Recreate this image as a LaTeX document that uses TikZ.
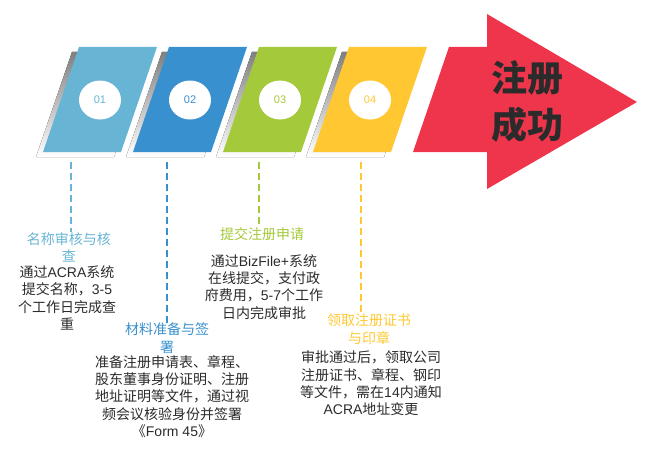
\documentclass[tikz,border=0pt]{standalone}
\usepackage{fontspec}
\setmainfont{Noto Sans CJK SC}
\newfontfamily\latn{Liberation Sans}
\usepackage{xcolor}
\usetikzlibrary{positioning, shapes.geometric, calc}

\definecolor{stepA}{HTML}{67B4D4}
\definecolor{stepB}{HTML}{3990CE}
\definecolor{stepC}{HTML}{A4C93A}
\definecolor{stepD}{HTML}{FFC832}
\definecolor{goal}{HTML}{EE354B}
\definecolor{shade}{HTML}{A6A6A6}
\definecolor{ink}{HTML}{2B2B2B}

\begin{document}
\begin{tikzpicture}[
  x=1pt, y=-1pt,
  numdisc/.style={ellipse, fill=white, minimum width=42pt, minimum height=39pt,
                  inner sep=0pt, font=\latn\fontsize{11}{13}\selectfont},
  steptitle/.style={align=center, inner sep=0pt,
                    font=\fontsize{14}{17.5}\selectfont},
  stepbody/.style={align=center, inner sep=0pt, text=ink,
                   font=\fontsize{14}{17.3}\selectfont},
  link/.style={line width=1.6pt, dash pattern=on 7pt off 4pt}
]
  \useasboundingbox (0,0) rectangle (653,452);

  % Step cards with shadows and number discs
  \foreach \i/\c/\n/\dx in {0/stepA/01/71, 1/stepB/02/167, 2/stepC/03/259, 3/stepD/04/361}{
    \fill[shade] (72+90*\i,52) -- (150+90*\i,52) -- (114+90*\i,157)
      -- (36+90*\i,157) -- cycle;
    \fill[\c] (79+90*\i,47) -- (157+90*\i,47) -- (121+90*\i,152)
      -- (43+90*\i,152) -- cycle;
    \node[numdisc, text=\c] (num\i) at (100+90*\i,100) {\n};
    \coordinate (drop\i) at (\dx,162);
  }

  % Big red arrow
  \fill[goal] (413,152) -- (449,47) -- (487,47) -- (487,14) -- (637,102)
    -- (487,189) -- (487,152) -- cycle;
  \node[align=center, inner sep=0pt, text=ink,
        font=\fontsize{36}{47}\selectfont\bfseries] (done) at (527,101)
    {注册\\成功};

  % Step titles
  \node[steptitle, text=stepA] (title0) at (69,247.5) {名称审核与核\\查};
  \node[steptitle, text=stepB] (title1) at (167,338) {材料准备与签\\署};
  \node[steptitle, text=stepC] (title2) at (262,234) {提交注册申请};
  \node[steptitle, text=stepD] (title3) at (369,329) {领取注册证书\\与印章};

  % Step details
  \node[stepbody] (body0) at (67,298)
    {通过{\latn ACRA}系统\\提交名称，{\latn 3-5}\\个工作日完成查\\重};
  \node[stepbody] (body1) at (172,396.5)
    {准备注册申请表、章程、\\股东董事身份证明、注册\\地址证明等文件，通过视\\频会议核验身份并签署\\《{\latn Form 45}》};
  \node[stepbody] (body2) at (264,287)
    {通过{\latn BizFile+}系统\\在线提交，支付政\\府费用，{\latn 5-7}个工作\\日内完成审批};
  \node[stepbody] (body3) at (371,383.5)
    {审批通过后，领取公司\\注册证书、章程、钢印\\等文件，需在{\latn 14}内通知\\{\latn ACRA}地址变更};

  % Dashed drop lines
  \foreach \i/\c in {0/stepA, 1/stepB, 2/stepC, 3/stepD}{
    \draw[link, \c] (drop\i) -- (drop\i |- title\i.north);
  }
\end{tikzpicture}
\end{document}
